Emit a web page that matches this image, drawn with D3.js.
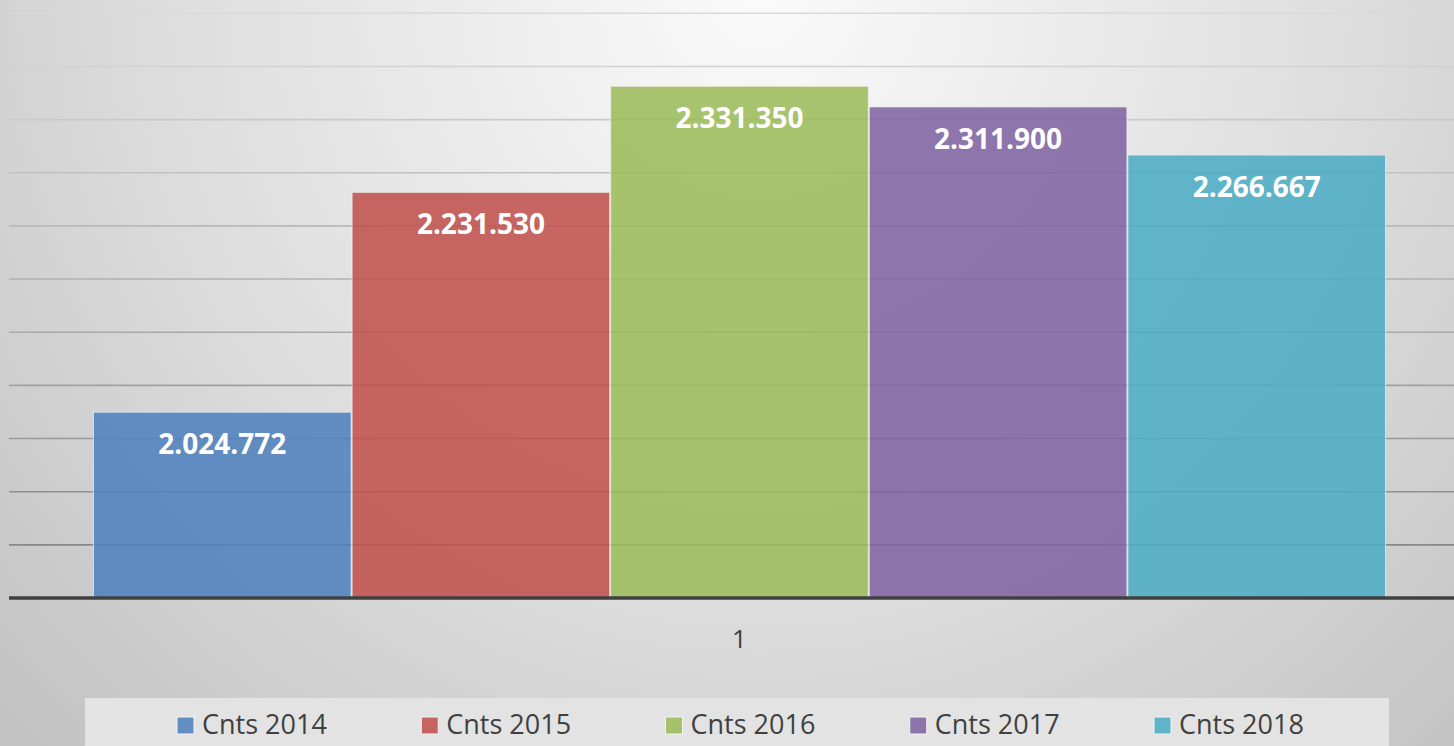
<html>
<head>
    <script src="https://cdn.jsdelivr.net/npm/d3@7/dist/d3.min.js"></script>
    <style>
        body { margin: 0; overflow: hidden; }
    </style>
</head>
<body>
    <script type="text/javascript">
        var width = 1454;
        var height = 746;

        // chart data
        const categories = ["1"];
        const seriesNames = ["Cnts 2014", "Cnts 2015", "Cnts 2016", "Cnts 2017", "Cnts 2018"];
        const seriesValues = [2024772, 2231530, 2331350, 2311900, 2266667];
        const seriesColors = ["#4f81bd", "#c0504d", "#9bbb59", "#8064a2", "#4bacc6"];
        const gridTicks = [1850000, 1900000, 1950000, 2000000, 2050000, 2100000, 2150000,
                           2200000, 2250000, 2300000, 2350000, 2400000];

        const svg = d3.select("body").append("svg")
            .attr("width", width)
            .attr("height", height)
            .style("font-family", "'Open Sans', sans-serif");

        // background gradient
        const defs = svg.append("defs");
        const bg = defs.append("radialGradient")
            .attr("id", "bg")
            .attr("gradientUnits", "userSpaceOnUse")
            .attr("cx", 760).attr("cy", 0).attr("r", 1050);
        bg.append("stop").attr("offset", "0").attr("stop-color", "#fafafa");
        bg.append("stop").attr("offset", "0.55").attr("stop-color", "#dedede");
        bg.append("stop").attr("offset", "1").attr("stop-color", "#c2c2c2");

        svg.append("rect")
            .attr("width", width)
            .attr("height", height)
            .attr("fill", "url(#bg)");

        const y = d3.scaleLinear()
            .domain([1850000, 2400000])
            .range([598, 13.3]);

        const x0 = d3.scaleBand()
            .domain(categories)
            .range([93, 1386]);

        const x1 = d3.scaleBand()
            .domain(seriesNames)
            .range([0, x0.bandwidth()]);

        const gridColor = d3.scaleLinear()
            .domain([13, 598])
            .range(["#dadada", "#808080"]);

        // gridlines
        svg.append("g")
            .selectAll("line")
            .data(gridTicks.slice(1))
            .join("line")
                .attr("x1", 9)
                .attr("x2", width)
                .attr("y1", d => y(d))
                .attr("y2", d => y(d))
                .attr("stroke", d => gridColor(y(d)))
                .attr("stroke-width", 1.6);

        // bars
        const bars = svg.append("g")
            .selectAll("g")
            .data(categories)
            .join("g")
                .attr("transform", d => `translate(${x0(d)},0)`);

        bars.selectAll("rect")
            .data(seriesNames.map((s, i) => ({ name: s, value: seriesValues[i], color: seriesColors[i] })))
            .join("rect")
                .attr("x", d => x1(d.name) + 0.5)
                .attr("y", d => y(d.value))
                .attr("width", x1.bandwidth() - 1)
                .attr("height", d => y(1850000) - y(d.value))
                .attr("fill", d => d.color)
                .attr("fill-opacity", 0.87)
                .attr("stroke", "#f0f0f0")
                .attr("stroke-opacity", 0.7)
                .attr("stroke-width", 1);

        // data labels
        bars.selectAll("text")
            .data(seriesNames.map((s, i) => ({ name: s, value: seriesValues[i] })))
            .join("text")
                .attr("x", d => x1(d.name) + x1.bandwidth() / 2)
                .attr("y", d => y(d.value) + 42)
                .attr("text-anchor", "middle")
                .attr("fill", "white")
                .attr("font-weight", "bold")
                .attr("font-size", 28)
                .text(d => d3.format(",")(d.value).replace(/,/g, "."));

        // baseline axis
        svg.append("line")
            .attr("x1", 9)
            .attr("x2", width)
            .attr("y1", y(1850000))
            .attr("y2", y(1850000))
            .attr("stroke", "#404040")
            .attr("stroke-width", 3.5);

        // category label
        svg.append("g")
            .selectAll("text")
            .data(categories)
            .join("text")
                .attr("x", d => x0(d) + x0.bandwidth() / 2)
                .attr("y", 648)
                .attr("text-anchor", "middle")
                .attr("fill", "#404040")
                .attr("font-size", 26)
                .text(d => d);

        // legend
        const legend = svg.append("g");
        legend.append("rect")
            .attr("x", 85)
            .attr("y", 698)
            .attr("width", 1304)
            .attr("height", 60)
            .attr("fill", "#e3e3e3");

        const legendX = d3.scalePoint()
            .domain(seriesNames)
            .range([177, 1154]);

        const items = legend.selectAll("g")
            .data(seriesNames)
            .join("g")
                .attr("transform", d => `translate(${legendX(d)},717)`);

        items.append("rect")
            .attr("width", 17)
            .attr("height", 17)
            .attr("fill", (d, i) => seriesColors[i])
            .attr("fill-opacity", 0.87)
            .attr("stroke", "#f4f4f4")
            .attr("stroke-width", 1);

        items.append("text")
            .attr("x", 25)
            .attr("y", 17)
            .attr("fill", "#404040")
            .attr("font-size", 27)
            .text(d => d);
    </script>
</body>
</html>
